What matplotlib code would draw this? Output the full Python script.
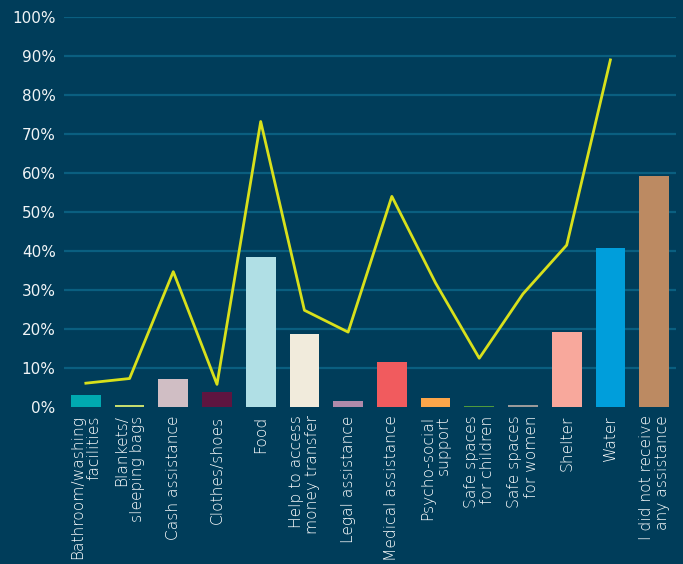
import matplotlib
matplotlib.use("Agg")
import matplotlib.pyplot as plt
import numpy as np

categories = [
    "Bathroom/washing\nfacilities",
    "Blankets/\nsleeping bags",
    "Cash assistance",
    "Clothes/shoes",
    "Food",
    "Help to access\nmoney transfer",
    "Legal assistance",
    "Medical assistance",
    "Psycho-social\nsupport",
    "Safe spaces\nfor children",
    "Safe spaces\nfor women",
    "Shelter",
    "Water",
    "I did not receive\nany assistance",
]
bar_values = [3.0, 0.5, 7.2, 3.9, 38.5, 18.6, 1.5, 11.5, 2.3, 0.2, 0.5, 19.2, 40.8, 59.2]
line_values = [6.1, 7.3, 34.7, 5.8, 73.2, 24.8, 19.2, 54.0, 31.8, 12.5, 29.0, 41.5, 89.0]
bar_colors = [
    "#00a9b0", "#c5dc6e", "#d0bec4", "#5e1540", "#b0dfe5", "#f1ebdc", "#b08aaa",
    "#f15b5e", "#fca64a", "#4f9a3c", "#9a9a9a", "#f8a89c", "#009edb", "#bc8a62",
]
yticks = [0, 10, 20, 30, 40, 50, 60, 70, 80, 90, 100]

bg = "#003d5a"
fig = plt.figure(figsize=(6.83, 5.64), dpi=100, facecolor=bg)
ax = fig.add_axes([0.0937, 0.2784, 0.896, 0.6915], facecolor=bg)

x = np.arange(len(categories))
for v in yticks[1:]:
    ax.axhline(v, color="#0a5f80", linewidth=1.6, zorder=0)
ax.bar(x, bar_values, width=0.68, color=bar_colors, zorder=2)
ax.plot(x[:len(line_values)], line_values, color="#d8e01b", linewidth=2, zorder=3)

ax.set_xlim(-0.5, len(categories) - 0.5)
ax.set_ylim(0, 100)
ax.set_yticks(yticks)
ax.set_yticklabels([f"{v}%" for v in yticks], color="#f0f4f6", fontsize=11)
ax.set_xticks(x)
ax.set_xticklabels(categories, rotation=90, color="#ffffff", fontsize=11.2,
                   linespacing=1.1, va="top", ha="center", multialignment="right",
                   fontweight="light")
ax.tick_params(length=0, pad=6)
for s in ax.spines.values():
    s.set_visible(False)

fig.savefig("out.png", dpi=100, facecolor=bg)
